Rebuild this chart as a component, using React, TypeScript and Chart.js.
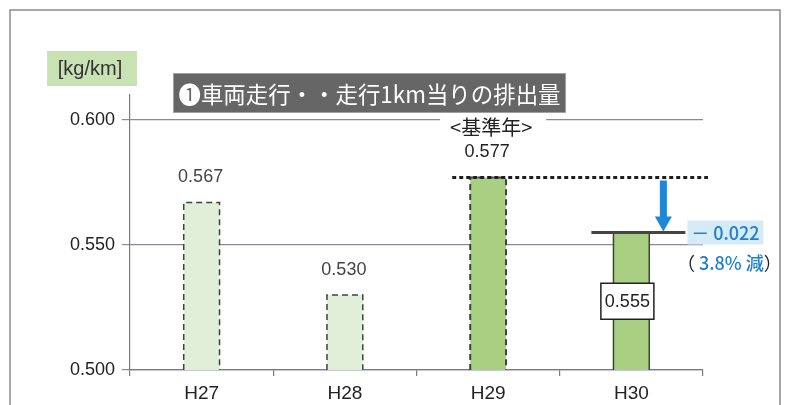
import React, { useEffect, useRef } from "react";
import { Chart, registerables } from "chart.js";

Chart.register(...registerables);

const categories = ["H27", "H28", "H29", "H30"];
const values = [0.567, 0.53, 0.577, 0.555];
const valueLabels = ["0.567", "0.530", "0.577", "0.555"];
const yTicks = [0.5, 0.55, 0.6];
const titleText = "❶車両走行・・走行1km当りの排出量";
const unitText = "[kg/km]";
const baseYearText = "<基準年>";
const diffText = "－ 0.022";
const pctText = "3.8% 減";

const LAT = '"Liberation Sans", Arial, sans-serif';
const CJK = '"Noto Sans CJK JP", "Liberation Sans", sans-serif';

const overlayPlugin = {
  id: "overlay",
  beforeDraw(chart: any) {
    const ctx = chart.ctx;
    ctx.save();
    ctx.fillStyle = "#ffffff";
    ctx.fillRect(0, 0, chart.width, chart.height);
    ctx.strokeStyle = "#8a8a8a";
    ctx.lineWidth = 1.5;
    ctx.beginPath();
    ctx.moveTo(10, 410);
    ctx.lineTo(10, 10);
    ctx.lineTo(780, 10);
    ctx.lineTo(780, 410);
    ctx.stroke();
    ctx.restore();
  },
  afterDatasetsDraw(chart: any) {
    const ctx = chart.ctx;
    const meta = chart.getDatasetMeta(0);
    const yScale = chart.scales.y;
    const area = chart.chartArea;
    ctx.save();

    const baseOf = (bar: any) => Math.min(bar.base, area.bottom);

    // bar borders
    meta.data.forEach((bar: any, i: number) => {
      const l = bar.x - bar.width / 2;
      const r = bar.x + bar.width / 2;
      const t = bar.y;
      const b = baseOf(bar);
      ctx.strokeStyle = "#3a443a";
      if (i < 3) {
        ctx.setLineDash([6, 4]);
        ctx.lineWidth = i === 2 ? 2 : 1.5;
        ctx.beginPath();
        ctx.moveTo(l, b);
        ctx.lineTo(l, t);
        ctx.lineTo(r, t);
        ctx.lineTo(r, b);
        ctx.stroke();
      } else {
        ctx.setLineDash([]);
        ctx.lineWidth = 1.5;
        ctx.beginPath();
        ctx.moveTo(l, b);
        ctx.lineTo(l, t);
        ctx.moveTo(r, t);
        ctx.lineTo(r, b);
        ctx.stroke();
      }
    });
    ctx.setLineDash([]);

    ctx.textAlign = "center";
    ctx.textBaseline = "middle";
    for (let i = 0; i < 3; i++) {
      const bar = meta.data[i];
      ctx.fillStyle = i === 2 ? "#222" : "#444";
      ctx.font = `18px ${LAT}`;
      ctx.fillText(valueLabels[i], bar.x - 1, bar.y - 25);
    }

    // base year label
    const b2 = meta.data[2];
    ctx.fillStyle = "#ffffff";
    ctx.fillRect(b2.x - 48, b2.y - 62, 106, 22);
    ctx.fillStyle = "#222";
    ctx.font = `20px ${CJK}`;
    ctx.fillText(baseYearText, b2.x + 3, b2.y - 50);

    // dotted reference line
    const refY = yScale.getPixelForValue(values[2]);
    ctx.strokeStyle = "#1e1e1e";
    ctx.lineWidth = 3;
    ctx.setLineDash([4, 3]);
    ctx.beginPath();
    ctx.moveTo(b2.x - b2.width / 2 - 18, refY);
    ctx.lineTo(area.right + 5, refY);
    ctx.stroke();
    ctx.setLineDash([]);

    // H30 top line
    const b3 = meta.data[3];
    ctx.strokeStyle = "#454545";
    ctx.lineWidth = 3;
    ctx.beginPath();
    ctx.moveTo(b3.x - 40, b3.y);
    ctx.lineTo(b3.x + 54, b3.y);
    ctx.stroke();

    // blue arrow
    const ax = b3.x + 32;
    const aTop = refY + 3;
    const aTip = b3.y - 1;
    ctx.fillStyle = "#1f87d6";
    ctx.beginPath();
    ctx.moveTo(ax - 3.5, aTop);
    ctx.lineTo(ax + 3.5, aTop);
    ctx.lineTo(ax + 3.5, aTip - 15);
    ctx.lineTo(ax + 8.5, aTip - 15);
    ctx.lineTo(ax, aTip);
    ctx.lineTo(ax - 8.5, aTip - 15);
    ctx.lineTo(ax - 3.5, aTip - 15);
    ctx.closePath();
    ctx.fill();

    // diff box
    const bx = b3.x + 56;
    ctx.fillStyle = "#d5ebf8";
    ctx.fillRect(bx, b3.y - 12, 76, 24);
    ctx.fillStyle = "#1f7fd0";
    ctx.font = `500 18px ${CJK}`;
    ctx.textAlign = "center";
    ctx.fillText(diffText, bx + 38, b3.y + 1);

    // percentage line
    const py = b3.y + 31;
    ctx.textAlign = "left";
    const lp = "（ ";
    const rp = "）";
    ctx.font = `18px ${CJK}`;
    const lpW = ctx.measureText(lp).width;
    ctx.font = `500 18px ${CJK}`;
    const midW = ctx.measureText(pctText).width;
    ctx.font = `18px ${CJK}`;
    const rpW = ctx.measureText(rp).width;
    const startX = 729 - (lpW + midW + rpW) / 2 + (b3.x - 631);
    ctx.font = `18px ${CJK}`;
    ctx.fillStyle = "#222";
    ctx.fillText(lp, startX, py);
    ctx.font = `500 18px ${CJK}`;
    ctx.fillStyle = "#1f7fd0";
    ctx.fillText(pctText, startX + lpW, py);
    ctx.font = `18px ${CJK}`;
    ctx.fillStyle = "#222";
    ctx.fillText(rp, startX + lpW + midW, py);

    // 0.555 value box inside bar
    const vy = (b3.y + baseOf(b3)) / 2;
    const vx = b3.x - 4;
    ctx.fillStyle = "#ffffff";
    ctx.fillRect(vx - 26.5, vy - 18, 53, 36);
    ctx.strokeStyle = "#222";
    ctx.lineWidth = 1.5;
    ctx.strokeRect(vx - 26.5, vy - 18, 53, 36);
    ctx.fillStyle = "#222";
    ctx.font = `18px ${LAT}`;
    ctx.textAlign = "center";
    ctx.fillText(valueLabels[3], vx, vy + 1);

    // unit label
    ctx.fillStyle = "#c8e2b3";
    ctx.fillRect(47, 51, 90, 35);
    ctx.fillStyle = "#333";
    ctx.font = `20px ${LAT}`;
    ctx.fillText(unitText, 90, 69);

    // title box
    ctx.fillStyle = "#666666";
    ctx.fillRect(173, 73, 393, 40);
    ctx.strokeStyle = "#a0a0a0";
    ctx.lineWidth = 1;
    ctx.strokeRect(173.5, 73.5, 392, 39);
    ctx.fillStyle = "#ffffff";
    ctx.font = `23px ${CJK}`;
    const tw = ctx.measureText(titleText).width;
    const maxW = 382;
    ctx.save();
    ctx.translate(369.5, 94);
    if (tw > maxW) ctx.scale(maxW / tw, 1);
    ctx.textAlign = "center";
    ctx.fillText(titleText, 0, 0);
    ctx.restore();

    ctx.restore();
  },
};

export default function App() {
  const ref = useRef<HTMLCanvasElement>(null);
  useEffect(() => {
    if (!ref.current) return;
    const chart = new Chart(ref.current, {
      type: "bar",
      data: {
        labels: categories,
        datasets: [
          {
            data: values,
            backgroundColor: ["#e2efd8", "#e2efd8", "#a9cf82", "#a9cf82"],
            borderWidth: 0,
            barPercentage: 0.25,
            categoryPercentage: 1,
          },
        ],
      },
      options: {
        animation: false,
        responsive: false,
        devicePixelRatio: 1,
        layout: { padding: { left: 0, top: 95, right: 86, bottom: 0 } },
        plugins: { legend: { display: false }, tooltip: { enabled: false } },
        scales: {
          x: {
            offset: true,
            grid: {
              offset: true,
              drawOnChartArea: false,
              drawTicks: true,
              tickLength: 6,
              color: "#7a7a86",
              lineWidth: 1.2,
            },
            border: { display: true, color: "#7a7a86", width: 1.2 },
            ticks: {
              color: "#222",
              font: { family: LAT, size: 19 },
              padding: 6,
            },
            afterFit: (s: any) => {
              s.height = 35;
            },
          },
          y: {
            min: 0.5,
            max: 0.61,
            grid: {
              color: "#8a8a96",
              lineWidth: 1.2,
              tickLength: 8,
            },
            border: { display: true, color: "#7a7a86", width: 1.2 },
            ticks: {
              stepSize: 0.05,
              includeBounds: false,
              color: "#222",
              font: { family: LAT, size: 18 },
              padding: 7,
              callback: (v: any) => Number(v).toFixed(3),
            },
            afterBuildTicks: (s: any) => {
              s.ticks = yTicks.map((v) => ({ value: v }));
            },
            afterFit: (s: any) => {
              s.width = 130;
            },
          },
        },
      },
      plugins: [overlayPlugin],
    });
    return () => chart.destroy();
  }, []);
  return (
    <div style={{ position: "fixed", left: 0, top: 0, width: 789, height: 405 }}>
      <canvas ref={ref} width={789} height={405} />
    </div>
  );
}
